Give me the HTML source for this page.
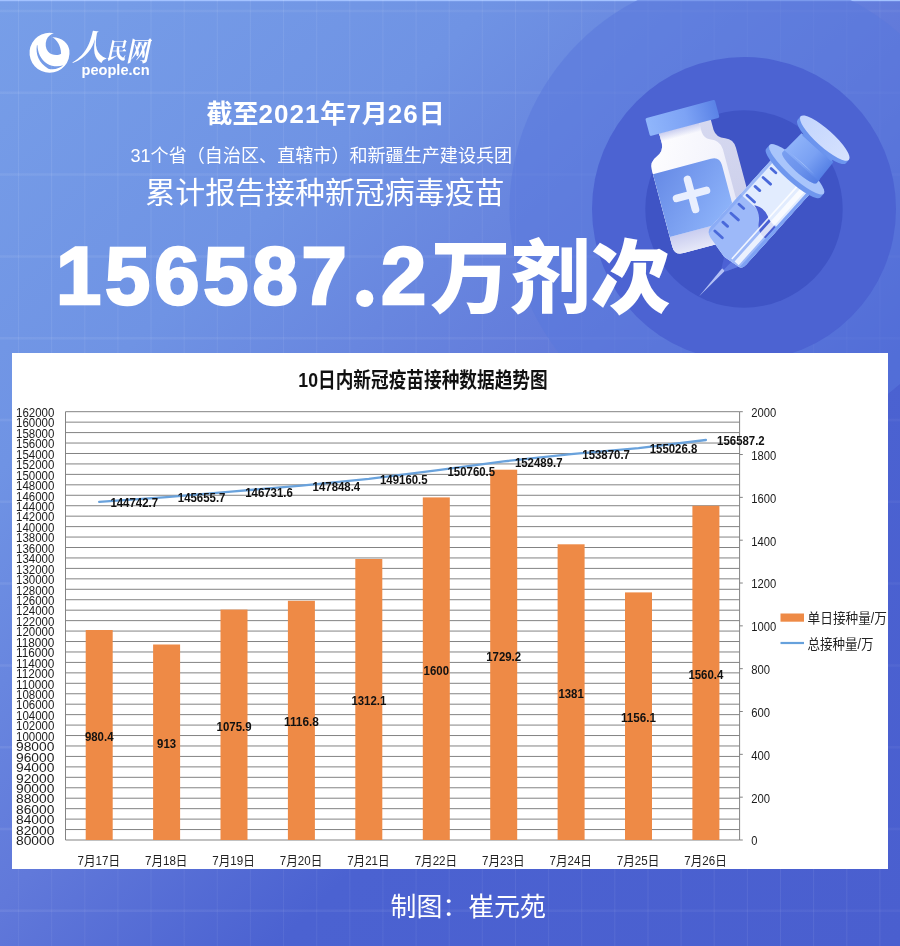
<!DOCTYPE html>
<html lang="zh-CN"><head><meta charset="utf-8"><title>新冠疫苗接种数据</title>
<style>
html,body{margin:0;padding:0}
body{width:900px;height:946px;position:relative;overflow:hidden;background:#5f79da;font-family:"Liberation Sans","Noto Sans CJK SC",sans-serif;color:#fff}
svg{display:block}
.bg{position:absolute;left:0;top:0}
.abs{position:absolute;white-space:nowrap;line-height:1;margin:0}
.logo-g{position:absolute;left:25px;top:27.2px}
.logo-cn{left:0;top:0;font-family:"Liberation Serif","Noto Serif CJK SC",serif;font-weight:700;font-style:italic}
.logo-cn span{position:absolute;line-height:1}
.logo-cn .a{font-size:35px;left:72px;top:31px}
.logo-cn .b{font-size:23px;left:106px;top:39.7px;transform:scaleX(.86);transform-origin:0 0}
.logo-cn .c{font-size:27px;left:125.5px;top:38.5px;transform:scaleX(.85);transform-origin:0 0}
.logo-en{left:81.5px;top:62.5px;font-weight:700;font-size:14.6px}
.t1{left:206.5px;top:100.8px;font-weight:700;font-size:26px}
.t1 i{font-style:normal;letter-spacing:1px}
.t2{left:130.5px;top:147px;font-weight:400;font-size:18.08px}
.t3{left:145.3px;top:178.4px;font-weight:400;font-size:29.95px}
.t4{left:0;top:0;font-weight:900;font-size:80px}
.t4 span{position:absolute;line-height:1}
.t4 .n{font-size:81.3px;letter-spacing:3.9px;-webkit-text-stroke:2.6px #fff;font-weight:700;top:234.5px}
.t4 .n1{left:56px}
.t4 .n2{left:381px}
.t4 .p{font-family:"Liberation Serif",serif;font-weight:700;font-size:106px;left:351.5px;top:218px}
.t4 .c{left:430.5px;top:239px}
.foot{left:390.5px;top:895.3px;font-size:25.9px;font-weight:400}
.panel{position:absolute;left:12px;top:353px;width:876px;height:516px;background:#fff}
.chart text{font-family:"Liberation Sans","Noto Sans CJK SC",sans-serif;fill:#1a1a1a}
.chart .ct{font-size:21px;font-weight:700;fill:#111}
.chart .ax text{font-size:13.1px;fill:#1c1c1c}
.chart .xl text{font-size:12.8px;fill:#222}
.chart .dl text{font-size:12.8px;font-weight:700;fill:#111}
.chart .lg{font-size:13.8px;fill:#222}
</style></head>
<body>
<svg class="bg" width="900" height="946" viewBox="0 0 900 946">
<defs>
<linearGradient id="bgG" gradientUnits="userSpaceOnUse" x1="0" y1="0" x2="900" y2="946">
<stop offset="0" stop-color="#779ee8"/><stop offset="0.26" stop-color="#6f93e4"/><stop offset="0.5" stop-color="#6179da"/><stop offset="0.67" stop-color="#4b62d1"/><stop offset="1" stop-color="#4a5fcf"/>
</linearGradient>
<linearGradient id="capG" x1="0" y1="0" x2="1" y2="0"><stop offset="0" stop-color="#90b6fb"/><stop offset="0.55" stop-color="#7da3f5"/><stop offset="1" stop-color="#5a82e6"/></linearGradient>
<linearGradient id="bodyG" x1="0" y1="0" x2="1" y2="1"><stop offset="0" stop-color="#ffffff"/><stop offset="0.6" stop-color="#f4f4fc"/><stop offset="1" stop-color="#dfe1f5"/></linearGradient>
<linearGradient id="botG" x1="0" y1="0" x2="0" y2="1"><stop offset="0" stop-color="#c9cdf0"/><stop offset="1" stop-color="#e6e8f8"/></linearGradient>
<linearGradient id="sideG" x1="0" y1="0" x2="0" y2="1"><stop offset="0" stop-color="#d6d9f0"/><stop offset="1" stop-color="#cacdea"/></linearGradient>
<linearGradient id="labG" x1="0" y1="0" x2="1" y2="1"><stop offset="0" stop-color="#668ae6"/><stop offset="1" stop-color="#92b8fc"/></linearGradient>
<linearGradient id="rodG" x1="0" y1="0" x2="1" y2="0"><stop offset="0" stop-color="#8fb3f9"/><stop offset="0.55" stop-color="#7aa1f3"/><stop offset="1" stop-color="#5580e5"/></linearGradient>
<linearGradient id="diskG" x1="0" y1="0" x2="1" y2="0"><stop offset="0" stop-color="#c3d5fd"/><stop offset="1" stop-color="#d6e2fe"/></linearGradient>
<linearGradient id="gridG" gradientUnits="userSpaceOnUse" x1="0" y1="0" x2="900" y2="0"><stop offset="0" stop-color="#fff" stop-opacity="0.07"/><stop offset="0.55" stop-color="#fff" stop-opacity="0.05"/><stop offset="1" stop-color="#fff" stop-opacity="0.04"/></linearGradient>
<linearGradient id="gridV" gradientUnits="userSpaceOnUse" x1="0" y1="0" x2="900" y2="946"><stop offset="0" stop-color="#fff" stop-opacity="0.085"/><stop offset="0.5" stop-color="#fff" stop-opacity="0.05"/><stop offset="1" stop-color="#fff" stop-opacity="0.07"/></linearGradient>
<linearGradient id="neckG" x1="0" y1="0" x2="0" y2="1"><stop offset="0" stop-color="#c4c9ee" stop-opacity="0.95"/><stop offset="1" stop-color="#c4c9ee" stop-opacity="0"/></linearGradient>
<clipPath id="barrelC"><path d="M-38 -152V-60Q-38 -54 -31 -51.5L-8 -46.5L10 -49Q14 -50 14 -56V-152Z"/></clipPath>
</defs>
<rect width="900" height="946" fill="url(#bgG)"/>
<rect width="900" height="1.2" fill="#a3c2ff"/>
<path d="M18.5 0V946M51.6 0V946M84.8 0V946M117.9 0V946M151.0 0V946M184.2 0V946M217.3 0V946M250.4 0V946M283.5 0V946M316.7 0V946M349.8 0V946M382.9 0V946M416.1 0V946M449.2 0V946M482.3 0V946M515.5 0V946M548.6 0V946M581.7 0V946M614.8 0V946M648.0 0V946M681.1 0V946M714.2 0V946M747.4 0V946M780.5 0V946M813.6 0V946M846.8 0V946M879.9 0V946" stroke="url(#gridV)" stroke-width="1" fill="none"/>
<path d="M0 11.0H900M0 92.8H900M0 174.6H900M0 256.4H900M0 338.2H900M0 420.0H900M0 501.8H900M0 583.6H900M0 665.4H900M0 747.2H900M0 829.0H900M0 910.8H900" stroke="url(#gridG)" stroke-width="2.5" fill="none"/>
<circle cx="744" cy="209" r="234.5" fill="#5a78dc" fill-opacity="0.55"/>
<circle cx="744" cy="209" r="152" fill="#4c63d2"/>
<circle cx="744" cy="209" r="98.7" fill="#3f54c5"/>
<g transform="translate(680 109) rotate(-15)">
<path d="M-26.5 16H27V29Q27.5 37 36 40Q44 43 44 52V131Q44 140 35 140H-34Q-43 140 -43 131V52Q-43 43 -35 40Q-27 37 -26.5 29Z" fill="url(#sideG)"/>
<path d="M-26.5 16H15V28Q15.5 34 21 37Q31 41 31 50V140H-34Q-43 140 -43 131V52Q-43 43 -35 40Q-27 37 -26.5 29Z" fill="url(#bodyG)"/>
<path d="M-43 121H31V140H-34Q-43 140 -43 131Z" fill="url(#botG)"/>
<path d="M-43 56H17Q26 56 26 65V121H-43Z" fill="url(#labG)"/>
<path d="M-11 70V101M-26.5 85.5H4.5" stroke="#e9effe" stroke-width="7.6" stroke-linecap="round" fill="none"/>
<rect x="-26.5" y="18" width="41.5" height="9" fill="url(#neckG)"/>
<rect x="-36" y="0" width="72" height="18.5" rx="1.5" fill="url(#capG)"/>
</g>
<g transform="translate(698.9 296.6) rotate(42)">
<path d="M0 0L-1.8 -38H2.2Z" fill="#b4c1f6"/>
<path d="M-8 -47L10 -50L3 -36.5H-2.4Z" fill="#4c61d4"/>
<path d="M1 -48.5L10 -50L3 -36.5H0.5Z" fill="#6079e0"/>
<g clip-path="url(#barrelC)">
<rect x="-40" y="-155" width="60" height="115" fill="#e2ecfe"/>
<rect x="-40" y="-104" width="60" height="64" fill="#9db9f9"/>
<path d="M-20 -105Q-10 -103 -5 -95Q1 -86 11 -88L11 -103Q4 -102 -3 -106Q-12 -110 -20 -105Z" fill="#4a5fd3"/>
<rect x="-38" y="-155" width="3.2" height="115" fill="#86a8f4" fill-opacity="0.75"/>
<rect x="-1.5" y="-150" width="1.6" height="100" fill="#fff" fill-opacity="0.85"/>
<rect x="3" y="-150" width="5.5" height="100" fill="#fff" fill-opacity="0.8"/>
<rect x="10.5" y="-155" width="4" height="115" fill="#7ea2f3"/>
</g>
<path d="M-32 -59.4h10.0M-32 -71.4h6.3M-32 -83.4h10.0M-32 -95.5h6.3M-32 -107.5h10.0M-32 -119.5h6.3M-32 -131.5h10.0M-32 -143.5h6.3" stroke="#4a69da" stroke-width="2.8" stroke-linecap="round" fill="none"/>
<path d="M-34.5 -162L-33 -190H10L11.5 -162Z" fill="url(#rodG)"/>
<rect x="-31" y="-199" width="39" height="10" fill="#6a93ee"/>
<path d="M-49 -160V-155A36.5 8.5 0 0 0 24 -155V-160Z" fill="#6f97ee"/>
<ellipse cx="-12.5" cy="-160" rx="36.5" ry="8.5" fill="#a9c5fb"/>
<path d="M-34.5 -168V-163A23 5 0 0 0 11.5 -163V-168Z" fill="url(#rodG)"/>
<path d="M-34.5 -166V-163A23 5 0 0 0 11.5 -163V-166Z" fill="#4f78e0" fill-opacity="0.35"/>
<path d="M-45 -202V-197.5A32.5 8.5 0 0 0 20 -197.5V-202Z" fill="#6c95ee"/>
<ellipse cx="-12.5" cy="-202" rx="32.5" ry="8.5" fill="url(#diskG)"/>
</g>
</svg>
<svg class="logo-g" width="50" height="50" viewBox="0 0 50 50">
<path fill="#fff" fill-rule="evenodd" d="M28.9 6.2A20 20 0 1 0 44.4 23.3C43.5 17 38 10.5 27.2 10.3C32 12.5 36 19 36.1 26.7C33.5 28.5 27 29 23 24.5C20.5 21.5 20 17 21.5 12.8C23 9 26 7 28.9 6.2ZM11.9 18.3C10.5 27 13.5 36 23.3 41.7C29 43.5 35 41 38.3 38.3C33 40 27 39.5 22.2 36.7C15.5 32.5 12.5 25 12.5 18.3Z"/>
</svg>
<div class="abs logo-cn"><span class="a">人</span><span class="b">民</span><span class="c">网</span></div>
<div class="abs logo-en">people.cn</div>
<div class="abs t1">截至<i>2021</i>年<i>7</i>月<i>26</i>日</div>
<div class="abs t2">31个省（自治区、直辖市）和新疆生产建设兵团</div>
<div class="abs t3">累计报告接种新冠病毒疫苗</div>
<div class="abs t4"><span class="n n1">156587</span><span class="p">.</span><span class="n n2">2</span><span class="c">万剂次</span></div>
<div class="panel">
<svg class="chart" width="876" height="516" viewBox="12 353 876 516">
<rect x="12" y="353" width="876" height="516" fill="#fff"/>
<text class="ct" x="423" y="386.5" text-anchor="middle" textLength="249.4" lengthAdjust="spacingAndGlyphs">10日内新冠疫苗接种数据趋势图</text>
<path d="M65.5 411.70H739.6M65.5 422.15H739.6M65.5 432.59H739.6M65.5 443.04H739.6M65.5 453.49H739.6M65.5 463.93H739.6M65.5 474.38H739.6M65.5 484.82H739.6M65.5 495.27H739.6M65.5 505.72H739.6M65.5 516.16H739.6M65.5 526.61H739.6M65.5 537.06H739.6M65.5 547.50H739.6M65.5 557.95H739.6M65.5 568.40H739.6M65.5 578.84H739.6M65.5 589.29H739.6M65.5 599.73H739.6M65.5 610.18H739.6M65.5 620.63H739.6M65.5 631.07H739.6M65.5 641.52H739.6M65.5 651.97H739.6M65.5 662.41H739.6M65.5 672.86H739.6M65.5 683.30H739.6M65.5 693.75H739.6M65.5 704.20H739.6M65.5 714.64H739.6M65.5 725.09H739.6M65.5 735.54H739.6M65.5 745.98H739.6M65.5 756.43H739.6M65.5 766.88H739.6M65.5 777.32H739.6M65.5 787.77H739.6M65.5 798.21H739.6M65.5 808.66H739.6M65.5 819.11H739.6M65.5 829.55H739.6M65.5 840.00H739.6" stroke="#838383" stroke-width="1" fill="none"/>
<path d="M65.5 411.7V840.0M739.6 411.7V840.0" stroke="#838383" stroke-width="1" fill="none"/>
<path d="M739.6 840.00h3.2M739.6 797.17h3.2M739.6 754.34h3.2M739.6 711.51h3.2M739.6 668.68h3.2M739.6 625.85h3.2M739.6 583.02h3.2M739.6 540.19h3.2M739.6 497.36h3.2M739.6 454.53h3.2M739.6 411.70h3.2" stroke="#838383" stroke-width="1" fill="none"/>
<rect x="85.7" y="630.0" width="27.0" height="210.0" fill="#ee8a46"/>
<rect x="153.1" y="644.5" width="27.0" height="195.5" fill="#ee8a46"/>
<rect x="220.5" y="609.6" width="27.0" height="230.4" fill="#ee8a46"/>
<rect x="287.9" y="600.8" width="27.0" height="239.2" fill="#ee8a46"/>
<rect x="355.3" y="559.0" width="27.0" height="281.0" fill="#ee8a46"/>
<rect x="422.8" y="497.4" width="27.0" height="342.6" fill="#ee8a46"/>
<rect x="490.2" y="469.7" width="27.0" height="370.3" fill="#ee8a46"/>
<rect x="557.6" y="544.3" width="27.0" height="295.7" fill="#ee8a46"/>
<rect x="625.0" y="592.4" width="27.0" height="247.6" fill="#ee8a46"/>
<rect x="692.4" y="505.8" width="27.0" height="334.2" fill="#ee8a46"/>
<polyline points="99.2,501.8 166.6,497.1 234.0,491.4 301.4,485.6 368.8,478.8 436.3,470.4 503.7,461.4 571.1,454.2 638.5,448.1 705.9,440.0" fill="none" stroke="#69a2dc" stroke-width="2.35" stroke-linecap="round" stroke-linejoin="round"/>
<g class="ax" text-anchor="end">
<text x="54.4" y="416.9" textLength="38.4" lengthAdjust="spacingAndGlyphs">162000</text>
<text x="54.4" y="427.3" textLength="38.4" lengthAdjust="spacingAndGlyphs">160000</text>
<text x="54.4" y="437.8" textLength="38.4" lengthAdjust="spacingAndGlyphs">158000</text>
<text x="54.4" y="448.2" textLength="38.4" lengthAdjust="spacingAndGlyphs">156000</text>
<text x="54.4" y="458.7" textLength="38.4" lengthAdjust="spacingAndGlyphs">154000</text>
<text x="54.4" y="469.1" textLength="38.4" lengthAdjust="spacingAndGlyphs">152000</text>
<text x="54.4" y="479.6" textLength="38.4" lengthAdjust="spacingAndGlyphs">150000</text>
<text x="54.4" y="490.0" textLength="38.4" lengthAdjust="spacingAndGlyphs">148000</text>
<text x="54.4" y="500.5" textLength="38.4" lengthAdjust="spacingAndGlyphs">146000</text>
<text x="54.4" y="510.9" textLength="38.4" lengthAdjust="spacingAndGlyphs">144000</text>
<text x="54.4" y="521.4" textLength="38.4" lengthAdjust="spacingAndGlyphs">142000</text>
<text x="54.4" y="531.8" textLength="38.4" lengthAdjust="spacingAndGlyphs">140000</text>
<text x="54.4" y="542.3" textLength="38.4" lengthAdjust="spacingAndGlyphs">138000</text>
<text x="54.4" y="552.7" textLength="38.4" lengthAdjust="spacingAndGlyphs">136000</text>
<text x="54.4" y="563.1" textLength="38.4" lengthAdjust="spacingAndGlyphs">134000</text>
<text x="54.4" y="573.6" textLength="38.4" lengthAdjust="spacingAndGlyphs">132000</text>
<text x="54.4" y="584.0" textLength="38.4" lengthAdjust="spacingAndGlyphs">130000</text>
<text x="54.4" y="594.5" textLength="38.4" lengthAdjust="spacingAndGlyphs">128000</text>
<text x="54.4" y="604.9" textLength="38.4" lengthAdjust="spacingAndGlyphs">126000</text>
<text x="54.4" y="615.4" textLength="38.4" lengthAdjust="spacingAndGlyphs">124000</text>
<text x="54.4" y="625.8" textLength="38.4" lengthAdjust="spacingAndGlyphs">122000</text>
<text x="54.4" y="636.3" textLength="38.4" lengthAdjust="spacingAndGlyphs">120000</text>
<text x="54.4" y="646.7" textLength="38.4" lengthAdjust="spacingAndGlyphs">118000</text>
<text x="54.4" y="657.2" textLength="38.4" lengthAdjust="spacingAndGlyphs">116000</text>
<text x="54.4" y="667.6" textLength="38.4" lengthAdjust="spacingAndGlyphs">114000</text>
<text x="54.4" y="678.1" textLength="38.4" lengthAdjust="spacingAndGlyphs">112000</text>
<text x="54.4" y="688.5" textLength="38.4" lengthAdjust="spacingAndGlyphs">110000</text>
<text x="54.4" y="699.0" textLength="38.4" lengthAdjust="spacingAndGlyphs">108000</text>
<text x="54.4" y="709.4" textLength="38.4" lengthAdjust="spacingAndGlyphs">106000</text>
<text x="54.4" y="719.8" textLength="38.4" lengthAdjust="spacingAndGlyphs">104000</text>
<text x="54.4" y="730.3" textLength="38.4" lengthAdjust="spacingAndGlyphs">102000</text>
<text x="54.4" y="740.7" textLength="38.4" lengthAdjust="spacingAndGlyphs">100000</text>
<text x="54.4" y="751.2" textLength="38.4" lengthAdjust="spacingAndGlyphs">98000</text>
<text x="54.4" y="761.6" textLength="38.4" lengthAdjust="spacingAndGlyphs">96000</text>
<text x="54.4" y="772.1" textLength="38.4" lengthAdjust="spacingAndGlyphs">94000</text>
<text x="54.4" y="782.5" textLength="38.4" lengthAdjust="spacingAndGlyphs">92000</text>
<text x="54.4" y="793.0" textLength="38.4" lengthAdjust="spacingAndGlyphs">90000</text>
<text x="54.4" y="803.4" textLength="38.4" lengthAdjust="spacingAndGlyphs">88000</text>
<text x="54.4" y="813.9" textLength="38.4" lengthAdjust="spacingAndGlyphs">86000</text>
<text x="54.4" y="824.3" textLength="38.4" lengthAdjust="spacingAndGlyphs">84000</text>
<text x="54.4" y="834.8" textLength="38.4" lengthAdjust="spacingAndGlyphs">82000</text>
<text x="54.4" y="845.2" textLength="38.4" lengthAdjust="spacingAndGlyphs">80000</text>
</g>
<g class="ax">
<text x="751.2" y="845.4" textLength="6.2" lengthAdjust="spacingAndGlyphs">0</text>
<text x="751.2" y="802.6" textLength="18.8" lengthAdjust="spacingAndGlyphs">200</text>
<text x="751.2" y="759.7" textLength="18.8" lengthAdjust="spacingAndGlyphs">400</text>
<text x="751.2" y="716.9" textLength="18.8" lengthAdjust="spacingAndGlyphs">600</text>
<text x="751.2" y="674.1" textLength="18.8" lengthAdjust="spacingAndGlyphs">800</text>
<text x="751.2" y="631.2" textLength="25.0" lengthAdjust="spacingAndGlyphs">1000</text>
<text x="751.2" y="588.4" textLength="25.0" lengthAdjust="spacingAndGlyphs">1200</text>
<text x="751.2" y="545.6" textLength="25.0" lengthAdjust="spacingAndGlyphs">1400</text>
<text x="751.2" y="502.8" textLength="25.0" lengthAdjust="spacingAndGlyphs">1600</text>
<text x="751.2" y="459.9" textLength="25.0" lengthAdjust="spacingAndGlyphs">1800</text>
<text x="751.2" y="417.1" textLength="25.0" lengthAdjust="spacingAndGlyphs">2000</text>
</g>
<g class="xl" text-anchor="middle">
<text x="98.8" y="864.6" textLength="42.5" lengthAdjust="spacingAndGlyphs">7月17日</text>
<text x="166.2" y="864.6" textLength="42.5" lengthAdjust="spacingAndGlyphs">7月18日</text>
<text x="233.6" y="864.6" textLength="42.5" lengthAdjust="spacingAndGlyphs">7月19日</text>
<text x="301.0" y="864.6" textLength="42.5" lengthAdjust="spacingAndGlyphs">7月20日</text>
<text x="368.4" y="864.6" textLength="42.5" lengthAdjust="spacingAndGlyphs">7月21日</text>
<text x="435.9" y="864.6" textLength="42.5" lengthAdjust="spacingAndGlyphs">7月22日</text>
<text x="503.3" y="864.6" textLength="42.5" lengthAdjust="spacingAndGlyphs">7月23日</text>
<text x="570.7" y="864.6" textLength="42.5" lengthAdjust="spacingAndGlyphs">7月24日</text>
<text x="638.1" y="864.6" textLength="42.5" lengthAdjust="spacingAndGlyphs">7月25日</text>
<text x="705.5" y="864.6" textLength="42.5" lengthAdjust="spacingAndGlyphs">7月26日</text>
</g>
<g class="dl">
<text x="110.4" y="507.0" textLength="47.6" lengthAdjust="spacingAndGlyphs">144742.7</text>
<text x="177.8" y="502.3" textLength="47.6" lengthAdjust="spacingAndGlyphs">145655.7</text>
<text x="245.2" y="496.6" textLength="47.6" lengthAdjust="spacingAndGlyphs">146731.6</text>
<text x="312.6" y="490.8" textLength="47.6" lengthAdjust="spacingAndGlyphs">147848.4</text>
<text x="380.0" y="484.0" textLength="47.6" lengthAdjust="spacingAndGlyphs">149160.5</text>
<text x="447.5" y="475.6" textLength="47.6" lengthAdjust="spacingAndGlyphs">150760.5</text>
<text x="514.9" y="466.6" textLength="47.6" lengthAdjust="spacingAndGlyphs">152489.7</text>
<text x="582.3" y="459.4" textLength="47.6" lengthAdjust="spacingAndGlyphs">153870.7</text>
<text x="649.7" y="453.3" textLength="47.6" lengthAdjust="spacingAndGlyphs">155026.8</text>
<text x="717.1" y="445.2" textLength="47.6" lengthAdjust="spacingAndGlyphs">156587.2</text>
<text x="84.9" y="740.8" textLength="28.6" lengthAdjust="spacingAndGlyphs">980.4</text>
<text x="157.1" y="748.0" textLength="19.0" lengthAdjust="spacingAndGlyphs">913</text>
<text x="216.6" y="730.6" textLength="34.9" lengthAdjust="spacingAndGlyphs">1075.9</text>
<text x="284.0" y="726.2" textLength="34.9" lengthAdjust="spacingAndGlyphs">1116.8</text>
<text x="351.4" y="705.3" textLength="34.9" lengthAdjust="spacingAndGlyphs">1312.1</text>
<text x="423.6" y="674.5" textLength="25.4" lengthAdjust="spacingAndGlyphs">1600</text>
<text x="486.2" y="660.6" textLength="34.9" lengthAdjust="spacingAndGlyphs">1729.2</text>
<text x="558.4" y="697.9" textLength="25.4" lengthAdjust="spacingAndGlyphs">1381</text>
<text x="621.0" y="722.0" textLength="34.9" lengthAdjust="spacingAndGlyphs">1156.1</text>
<text x="688.4" y="678.7" textLength="34.9" lengthAdjust="spacingAndGlyphs">1560.4</text>
</g>
<rect x="780.5" y="613.5" width="23.5" height="8.2" fill="#ee8a46"/>
<path d="M780.5 643H804" stroke="#66a1dc" stroke-width="2.2"/>
<text class="lg" x="807.6" y="622.8" textLength="79.4" lengthAdjust="spacingAndGlyphs">单日接种量/万</text>
<text class="lg" x="807.6" y="648.6" textLength="66" lengthAdjust="spacingAndGlyphs">总接种量/万</text>
</svg>
</div>
<div class="abs foot">制图：崔元苑</div>
</body></html>
